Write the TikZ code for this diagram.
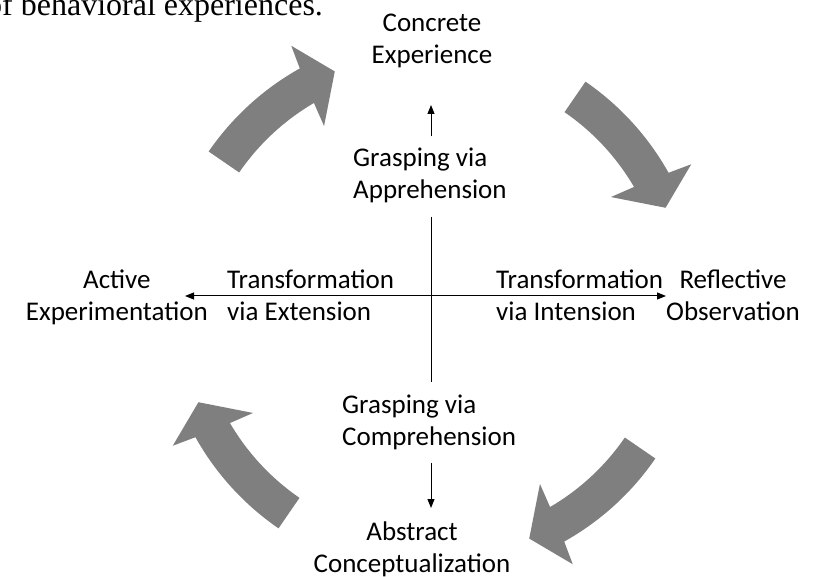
\documentclass[tikz,border=0pt]{standalone}
\usepackage{fontspec}
\setmainfont{Carlito}
\newfontfamily\bodyserif{Liberation Serif}
\usetikzlibrary{arrows.meta}
\definecolor{cyclegray}{RGB}{127,127,127}
\begin{document}
\begin{tikzpicture}[x=1pt,y=1pt,
  lbl/.style={inner sep=0pt, font=\fontsize{27}{32}\selectfont},
  axislbl/.style={lbl, inner ysep=8pt, align=left, anchor=west},
  axis/.style={line width=1pt},
  tip/.style={axis, -{Triangle[length=9pt,width=7pt]}},
  cyclearrow/.style={fill=cyclegray, draw=none}]
\useasboundingbox (0,0) rectangle (813,576);

% running text above the figure
\node[inner sep=0pt, anchor=base west, font=\bodyserif\fontsize{32}{36}\selectfont]
  (caption) at (-14,560.5) {of behavioral experiences.};

% the four curved arrows of the learning cycle
\coordinate (C) at (432,271);
\foreach \k in {0,1,2,3}{
  \begin{scope}[shift={(C)}, rotate=-90*\k]
    \fill[cyclearrow] (145.5:271) arc[start angle=145.5, end angle=119.2, radius=271]
      -- (118.5:295) -- (112.6:253) -- (121.1:209) -- (120.3:234)
      arc[start angle=120.3, end angle=145.5, radius=234] -- cycle;
  \end{scope}
}

% the four stages
\node[lbl, align=center] (ce) at (432,534.7) {\strut Concrete\\Experience\strut};
\node[lbl, align=center, anchor=west] (ro) at (666,277.4) {\strut Reflective\\Observation\strut};
\node[lbl, align=center] (ac) at (412,25.7) {\strut Abstract\\Conceptualization\strut};
\node[lbl, align=center, anchor=east] (ae) at (208,277.4) {\strut Active\\Experimentation\strut};

% labels on the two axes
\node[axislbl] (ga) at (353,399.4) {\strut Grasping via\\Apprehension\strut};
\node[axislbl] (gc) at (342,153.4) {\strut Grasping via\\Comprehension\strut};
\node[axislbl] (te) at (227,277.4) {\strut Transformation\\via Extension\strut};
\node[axislbl] (ti) at (496,277.4) {\strut Transformation\\via Intension\strut};

% axes
\coordinate (O) at (431,280);
\coordinate (L) at (185,280);
\coordinate (R) at (666,280);
\coordinate (T) at (431,471);
\coordinate (B) at (431,68);
\draw[tip] (O) -- (L);
\draw[tip] (O) -- (R);
\draw[tip] (ga.north -| O) -- (T);
\draw[axis] (ga.south -| O) -- (gc.north -| O);
\draw[tip] (gc.south -| O) -- (B);
\end{tikzpicture}
\end{document}
